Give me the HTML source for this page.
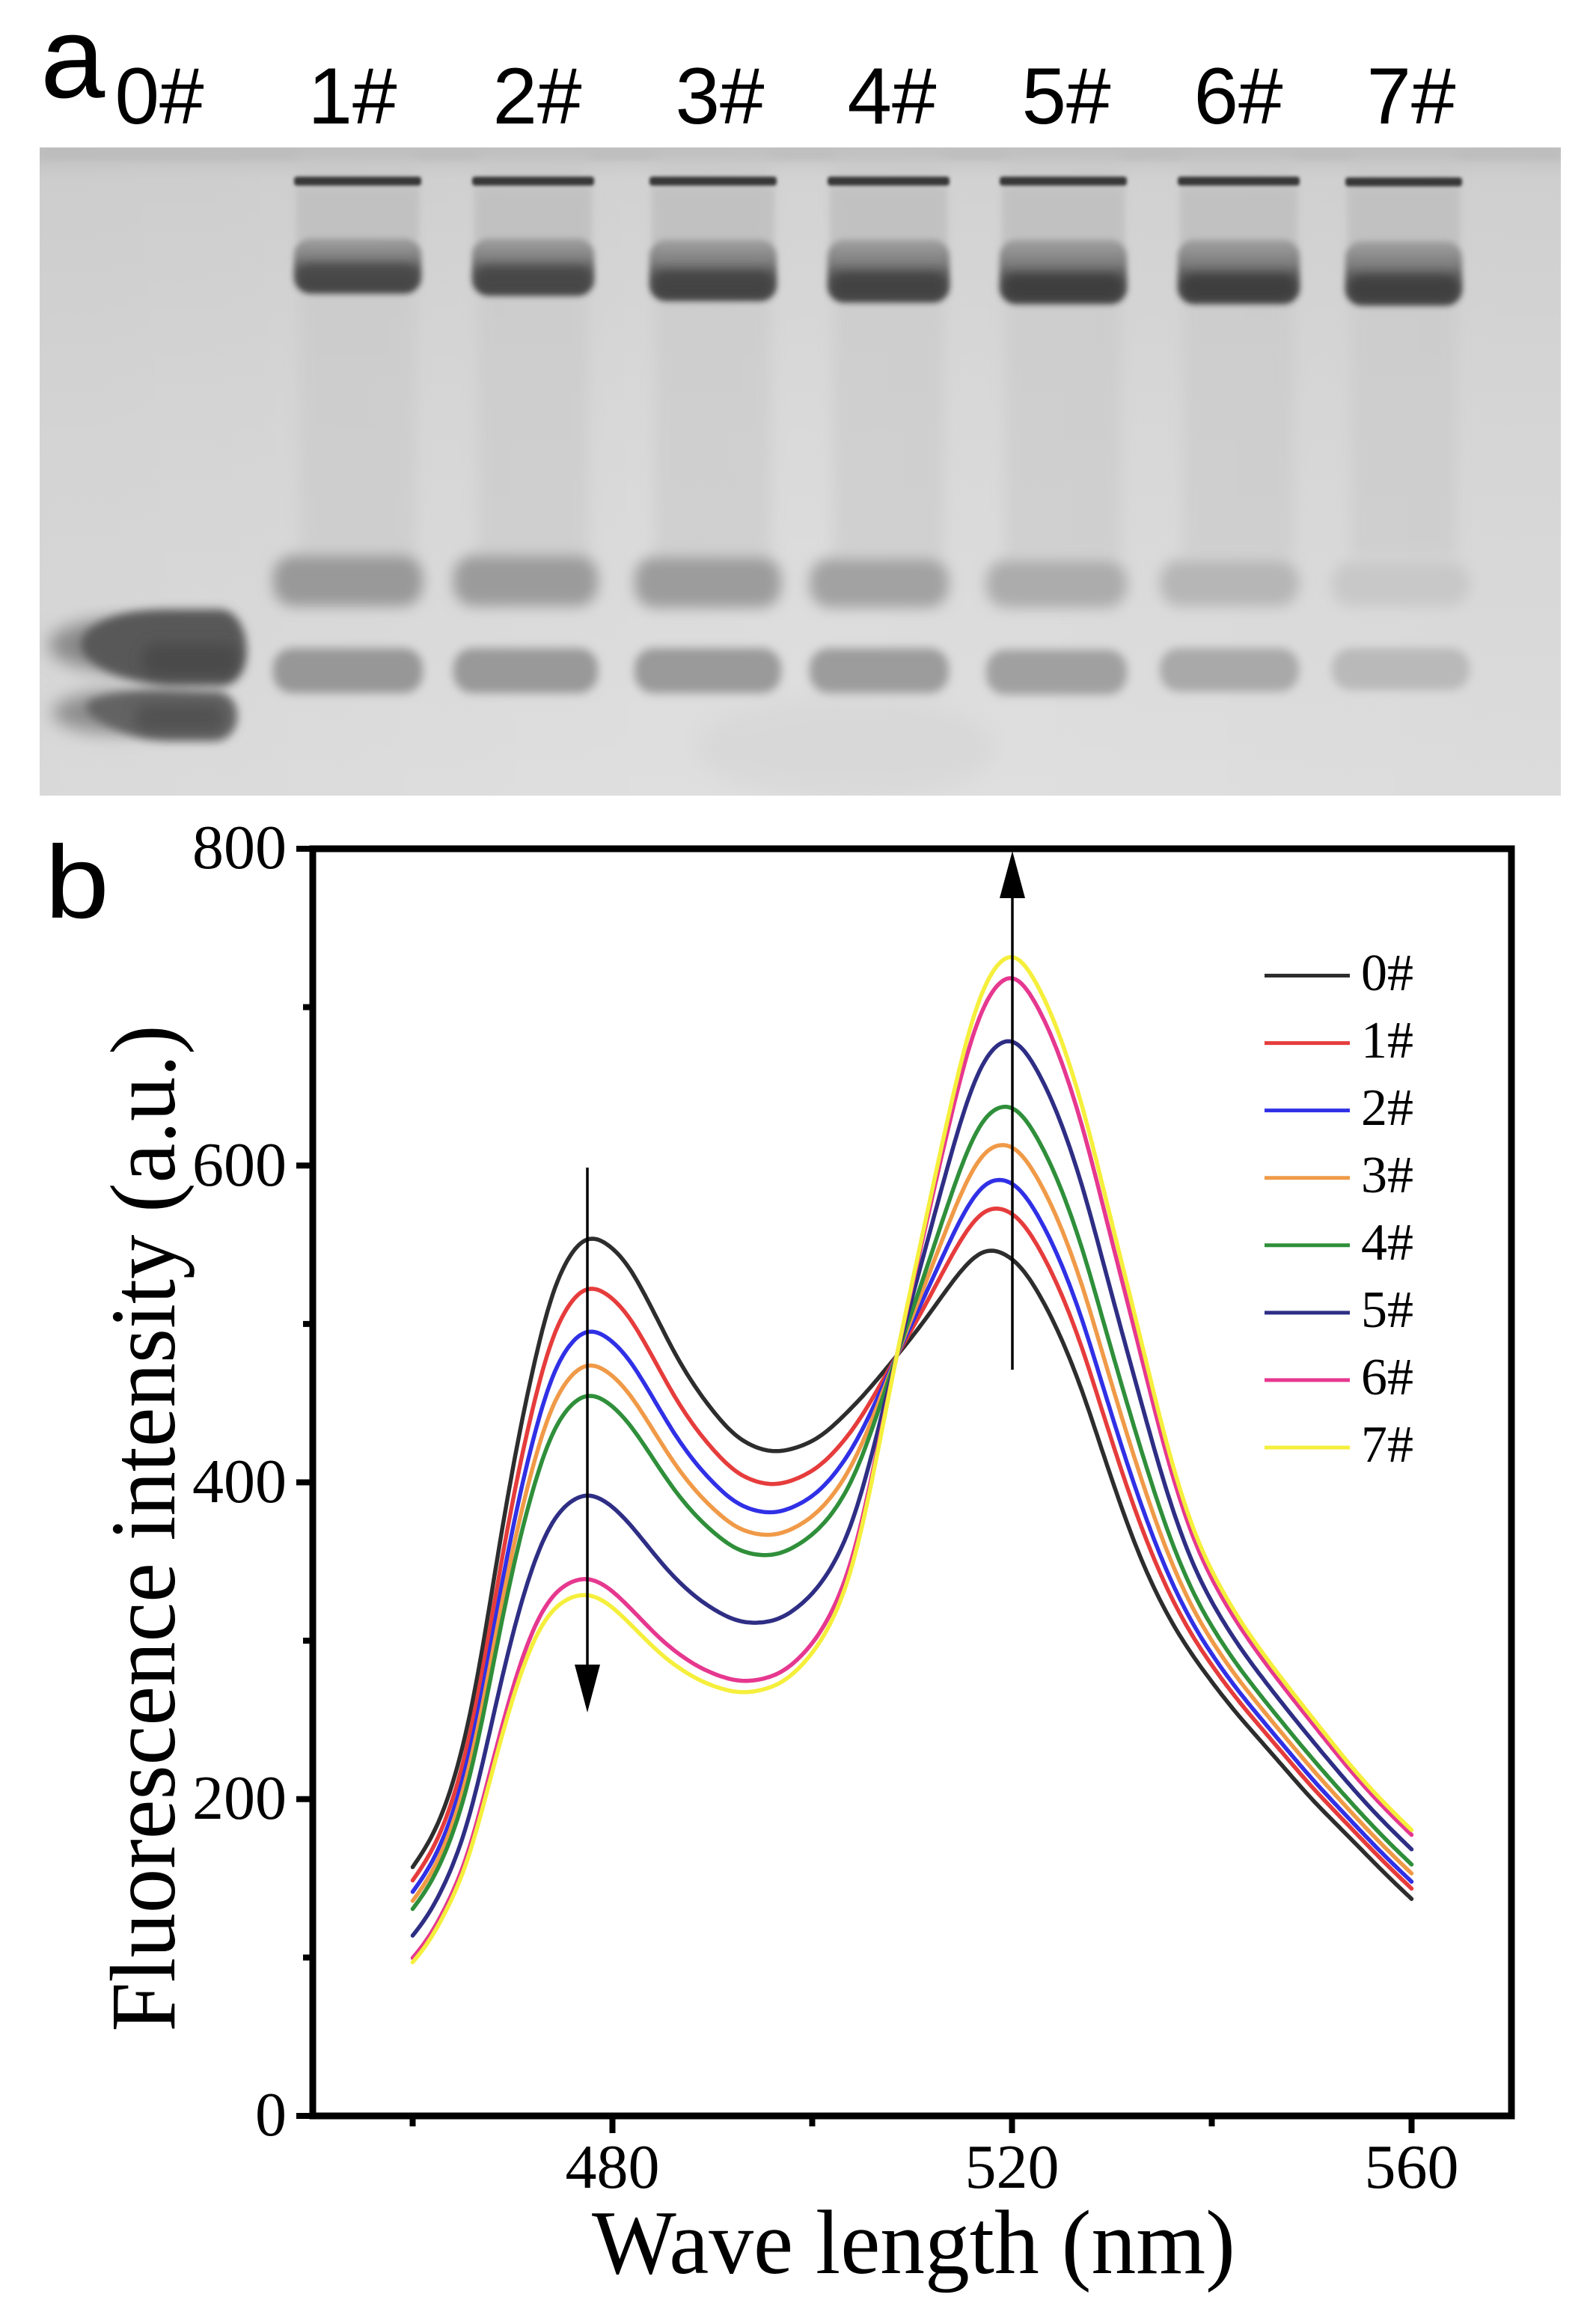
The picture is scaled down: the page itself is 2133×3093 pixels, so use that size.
<!DOCTYPE html>
<html>
<head>
<meta charset="utf-8">
<style>
html,body{margin:0;padding:0;background:#fff;}
svg{display:block;}
.sans{font-family:"Liberation Sans",Arial,sans-serif;}
.serif{font-family:"Liberation Serif","Times New Roman",serif;}
</style>
</head>
<body>
<svg width="2133" height="3093" viewBox="0 0 2133 3093" xmlns="http://www.w3.org/2000/svg">
<defs>
  <filter id="g2" x="-20%" y="-100%" width="140%" height="300%"><feGaussianBlur stdDeviation="2"/></filter>
  <filter id="g4" x="-30%" y="-60%" width="160%" height="220%"><feGaussianBlur stdDeviation="4"/></filter>
  <filter id="g6" x="-40%" y="-80%" width="180%" height="260%"><feGaussianBlur stdDeviation="6"/></filter>
  <filter id="g9" x="-50%" y="-100%" width="200%" height="300%"><feGaussianBlur stdDeviation="9"/></filter>
  <filter id="g12" x="-50%" y="-100%" width="200%" height="300%"><feGaussianBlur stdDeviation="12"/></filter>
  <filter id="g14" x="-50%" y="-50%" width="200%" height="200%"><feGaussianBlur stdDeviation="14"/></filter>
  <linearGradient id="gelbg" x1="0" y1="0" x2="0" y2="1">
    <stop offset="0" stop-color="#c6c6c6"/>
    <stop offset="0.05" stop-color="#d3d3d3"/>
    <stop offset="0.4" stop-color="#d9d9d9"/>
    <stop offset="1" stop-color="#e0e0e0"/>
  </linearGradient>
  <linearGradient id="gelh" x1="0" y1="0" x2="1" y2="0">
    <stop offset="0" stop-color="#000" stop-opacity="0.03"/>
    <stop offset="0.5" stop-color="#000" stop-opacity="0"/>
    <stop offset="1" stop-color="#000" stop-opacity="0.02"/>
  </linearGradient>
  <linearGradient id="mb" x1="0" y1="0" x2="0" y2="1">
    <stop offset="0" stop-color="#a2a2a2"/>
    <stop offset="0.35" stop-color="#808080"/>
    <stop offset="0.55" stop-color="#5e5e5e"/>
    <stop offset="1" stop-color="#4a4a4a"/>
  </linearGradient>
  <clipPath id="gelclip"><rect x="53" y="197" width="2033" height="866"/></clipPath>
</defs>

<!-- ============ PANEL A: GEL ============ -->
<text class="sans" x="54" y="130" font-size="155" fill="#000">a</text>
<g class="sans" font-size="107" fill="#000" text-anchor="middle">
  <text x="213" y="165">0#</text>
  <text x="471" y="165">1#</text>
  <text x="718" y="165">2#</text>
  <text x="962" y="165">3#</text>
  <text x="1192" y="165">4#</text>
  <text x="1425" y="165">5#</text>
  <text x="1655" y="165">6#</text>
  <text x="1886" y="165">7#</text>
</g>

<g clip-path="url(#gelclip)">
  <rect x="53" y="197" width="2033" height="866" fill="url(#gelbg)"/>
  <rect x="53" y="197" width="2033" height="866" fill="url(#gelh)"/>
  <rect x="53" y="197" width="2033" height="18" fill="#b9b9b9" opacity="0.6" filter="url(#g4)"/>
  <ellipse cx="1130" cy="1000" rx="200" ry="70" fill="#cdcdcd" opacity="0.35" filter="url(#g14)"/>

  <g fill="#c8c8c8" opacity="0.55" filter="url(#g9)">
    <rect x="400" y="205" width="156" height="540"/>
    <rect x="638" y="205" width="149" height="540"/>
    <rect x="875" y="205" width="156" height="540"/>
    <rect x="1113" y="205" width="149" height="540"/>
    <rect x="1343" y="205" width="156" height="540"/>
    <rect x="1581" y="205" width="149" height="540"/>
    <rect x="1805" y="205" width="142" height="540"/>
  </g>
  <g fill="#bdbdbd" opacity="0.7" filter="url(#g4)">
    <rect x="396" y="250" width="164" height="70"/>
    <rect x="634" y="250" width="157" height="72"/>
    <rect x="871" y="250" width="164" height="76"/>
    <rect x="1109" y="250" width="157" height="78"/>
    <rect x="1339" y="250" width="164" height="78"/>
    <rect x="1577" y="250" width="157" height="78"/>
    <rect x="1801" y="250" width="150" height="80"/>
  </g>
  <g fill="#383838" filter="url(#g2)">
    <rect x="393" y="236" width="170" height="12" rx="4"/>
    <rect x="631" y="236" width="163" height="12" rx="4"/>
    <rect x="868" y="236" width="170" height="12" rx="4"/>
    <rect x="1106" y="236" width="163" height="12" rx="4"/>
    <rect x="1336" y="236" width="170" height="12" rx="4"/>
    <rect x="1574" y="236" width="163" height="12" rx="4"/>
    <rect x="1798" y="237" width="156" height="12" rx="4"/>
  </g>
  <g fill="url(#mb)" filter="url(#g4)">
    <rect x="393" y="318" width="170" height="74" rx="22"/>
    <rect x="631" y="318" width="163" height="77" rx="22"/>
    <rect x="868" y="320" width="170" height="82" rx="22"/>
    <rect x="1106" y="320" width="163" height="84" rx="22"/>
    <rect x="1336" y="320" width="170" height="86" rx="22"/>
    <rect x="1574" y="320" width="163" height="86" rx="22"/>
    <rect x="1798" y="322" width="156" height="86" rx="22"/>
  </g>
  <g fill="#3a3a3a" filter="url(#g6)">
    <rect x="398" y="352" width="160" height="34" rx="16" opacity="0.55"/>
    <rect x="636" y="355" width="153" height="34" rx="16" opacity="0.6"/>
    <rect x="873" y="362" width="160" height="34" rx="16" opacity="0.7"/>
    <rect x="1111" y="364" width="153" height="34" rx="16" opacity="0.72"/>
    <rect x="1341" y="366" width="160" height="34" rx="16" opacity="0.8"/>
    <rect x="1579" y="366" width="153" height="34" rx="16" opacity="0.8"/>
    <rect x="1803" y="368" width="146" height="34" rx="16" opacity="0.82"/>
  </g>
  <g filter="url(#g9)">
    <rect x="365" y="742" width="200" height="68" rx="28" fill="#999999"/>
    <rect x="606" y="742" width="193" height="68" rx="28" fill="#9b9b9b"/>
    <rect x="848" y="744" width="196" height="68" rx="28" fill="#9c9c9c"/>
    <rect x="1082" y="746" width="186" height="66" rx="28" fill="#a2a2a2"/>
    <rect x="1318" y="748" width="188" height="64" rx="28" fill="#acacac"/>
    <rect x="1550" y="748" width="186" height="62" rx="28" fill="#b6b6b6"/>
    <rect x="1780" y="750" width="184" height="60" rx="28" fill="#c8c8c8"/>
  </g>
  <g filter="url(#g6)">
    <rect x="365" y="866" width="200" height="60" rx="26" fill="#979797"/>
    <rect x="606" y="866" width="193" height="60" rx="26" fill="#999999"/>
    <rect x="848" y="866" width="196" height="60" rx="26" fill="#9a9a9a"/>
    <rect x="1082" y="866" width="186" height="60" rx="26" fill="#9c9c9c"/>
    <rect x="1318" y="868" width="188" height="60" rx="26" fill="#a0a0a0"/>
    <rect x="1550" y="866" width="186" height="58" rx="26" fill="#a9a9a9"/>
    <rect x="1780" y="866" width="184" height="56" rx="26" fill="#b9b9b9"/>
  </g>
  <g filter="url(#g12)">
    <ellipse cx="150" cy="862" rx="85" ry="34" fill="#8a8a8a"/>
    <ellipse cx="150" cy="952" rx="80" ry="28" fill="#8e8e8e"/>
  </g>
  <g filter="url(#g6)">
    <path d="M120,840 C150,818 190,814 230,814 L295,814 C338,818 342,908 300,916 L230,916 C180,914 140,900 118,880 C104,868 106,852 120,840 Z" fill="#595959"/>
    <path d="M125,934 C155,924 190,922 225,922 L292,924 C326,930 326,984 290,990 L225,990 C180,988 145,972 125,958 C112,950 112,940 125,934 Z" fill="#646464"/>
  </g>
  <g filter="url(#g9)" opacity="0.7">
    <rect x="190" y="860" width="130" height="45" rx="20" fill="#444"/>
    <rect x="180" y="940" width="120" height="38" rx="18" fill="#4c4c4c"/>
  </g>
</g>

<!-- ============ PANEL B: CHART ============ -->
<text class="sans" x="60" y="1226" font-size="138" fill="#000" transform="translate(60,1226) scale(1.12,1) translate(-60,-1226)">b</text>

<g id="curves" fill="none" stroke-width="5.5" stroke-linejoin="round" stroke-linecap="round"></g>

<g stroke="#000" stroke-width="3.5">
  <line x1="785" y1="1560" x2="785" y2="2232"/>
  <line x1="1353" y1="1830" x2="1353" y2="1192"/>
</g>
<polygon points="768,2224 802,2224 785,2288" fill="#000"/>
<polygon points="1336,1200 1370,1200 1353,1137" fill="#000"/>

<rect x="418" y="1134" width="1602" height="1693" fill="none" stroke="#000" stroke-width="9"/>

<g stroke="#000" stroke-width="8">
  <line x1="396" y1="2827" x2="418" y2="2827"/>
  <line x1="396" y1="2403.75" x2="418" y2="2403.75"/>
  <line x1="396" y1="1980.5" x2="418" y2="1980.5"/>
  <line x1="396" y1="1557.25" x2="418" y2="1557.25"/>
  <line x1="396" y1="1134" x2="418" y2="1134"/>
  <line x1="405" y1="2615.4" x2="418" y2="2615.4"/>
  <line x1="405" y1="2192.1" x2="418" y2="2192.1"/>
  <line x1="405" y1="1768.9" x2="418" y2="1768.9"/>
  <line x1="405" y1="1345.6" x2="418" y2="1345.6"/>
</g>
<g stroke="#000" stroke-width="8">
  <line x1="818.5" y1="2827" x2="818.5" y2="2850"/>
  <line x1="1352.5" y1="2827" x2="1352.5" y2="2850"/>
  <line x1="1886.5" y1="2827" x2="1886.5" y2="2850"/>
  <line x1="551.5" y1="2827" x2="551.5" y2="2841"/>
  <line x1="1085.5" y1="2827" x2="1085.5" y2="2841"/>
  <line x1="1619.5" y1="2827" x2="1619.5" y2="2841"/>
</g>

<g class="serif" font-size="84" fill="#000" text-anchor="end">
  <text x="383" y="2853">0</text>
  <text x="383" y="2430">200</text>
  <text x="383" y="2007">400</text>
  <text x="383" y="1584">600</text>
  <text x="383" y="1160">800</text>
</g>
<g class="serif" font-size="84" fill="#000" text-anchor="middle">
  <text x="818.5" y="2923">480</text>
  <text x="1352.5" y="2923">520</text>
  <text x="1886.5" y="2923">560</text>
</g>

<text class="serif" x="1221" y="3037" font-size="122" text-anchor="middle" textLength="860" lengthAdjust="spacingAndGlyphs" fill="#000">Wave length (nm)</text>
<text class="serif" transform="translate(233,2042) rotate(-90)" x="0" y="0" font-size="124" text-anchor="middle" textLength="1345" lengthAdjust="spacingAndGlyphs" fill="#000">Fluorescence intensity (a.u.)</text>

<g stroke-width="5">
  <line x1="1690" y1="1303.5" x2="1804" y2="1303.5" stroke="#2d2d2d"/>
  <line x1="1690" y1="1393.6" x2="1804" y2="1393.6" stroke="#e63c3c"/>
  <line x1="1690" y1="1483.6" x2="1804" y2="1483.6" stroke="#3030e6"/>
  <line x1="1690" y1="1573.7" x2="1804" y2="1573.7" stroke="#f09a48"/>
  <line x1="1690" y1="1663.8" x2="1804" y2="1663.8" stroke="#2f8f3a"/>
  <line x1="1690" y1="1753.9" x2="1804" y2="1753.9" stroke="#2e2e85"/>
  <line x1="1690" y1="1843.9" x2="1804" y2="1843.9" stroke="#e6388f"/>
  <line x1="1690" y1="1934" x2="1804" y2="1934" stroke="#f5ef3c"/>
</g>
<g class="serif" font-size="70" fill="#000">
  <text x="1819" y="1323">0#</text>
  <text x="1819" y="1413">1#</text>
  <text x="1819" y="1503">2#</text>
  <text x="1819" y="1593">3#</text>
  <text x="1819" y="1683">4#</text>
  <text x="1819" y="1773">5#</text>
  <text x="1819" y="1863">6#</text>
  <text x="1819" y="1953">7#</text>
</g>
</svg>

<script>
(function(){
  function mk(pts){
    var xs=pts.map(function(p){return p[0];}), ys=pts.map(function(p){return p[1];});
    var n=xs.length, d=[], m=[], i;
    for(i=0;i<n-1;i++) d[i]=(ys[i+1]-ys[i])/(xs[i+1]-xs[i]);
    m[0]=d[0]; m[n-1]=d[n-2];
    for(i=1;i<n-1;i++){
      if(d[i-1]*d[i]<=0){m[i]=0;}
      else{
        var h0=xs[i]-xs[i-1], h1=xs[i+1]-xs[i], w1=2*h1+h0, w2=h1+2*h0;
        m[i]=(w1+w2)/(w1/d[i-1]+w2/d[i]);
      }
    }
    return function(x){
      if(x<=xs[0]) return ys[0]+(x-xs[0])*d[0];
      if(x>=xs[n-1]) return ys[n-1]+(x-xs[n-1])*d[n-2];
      var k=0; while(k<n-2 && x>xs[k+1]) k++;
      var h=xs[k+1]-xs[k], t=(x-xs[k])/h, t2=t*t, t3=t2*t;
      return (2*t3-3*t2+1)*ys[k]+(t3-2*t2+t)*h*m[k]+(-2*t3+3*t2)*ys[k+1]+(t3-t2)*h*m[k+1];
    };
  }
  var B=mk([[460,157],[461,166],[462.4,181],[464.1,210],[466.3,268],[467.7,322],[469.7,399],[472.1,474],[474.5,530],[477.7,556],[480.9,543],[483.7,513],[486.6,477],[489.8,447],[493,426],[496.2,419],[499.8,425],[503.8,446],[508.4,479.4],[511,500],[513.5,522],[515.6,539],[517.6,548],[520.2,541],[523,516],[526.4,469],[529.6,409],[532.6,356],[535.4,318],[537.5,296],[540,274],[542.5,254],[545,236],[547.5,218],[550,200],[552.5,184],[555,168],[557.5,152],[560,137]]);
  var Yl=mk([[460,97],[461.5,108],[463,125],[465.3,156],[467.7,211],[469.9,262],[472.1,301],[473.7,318],[475.5,327],[477.4,330],[479.5,324],[481.7,311],[485.7,287],[489.8,272],[493,267],[496.2,271],[499.8,290],[502,312],[503.8,340],[506,401],[508.4,479],[511,555],[513.4,625],[516.1,695],[517.8,722],[520,735],[523,709],[526.4,652],[529.9,566],[533.3,480],[535.3,428],[538.5,364],[542.5,316],[545,293],[547.5,272],[550,252],[552.5,232],[555,213],[557.5,196],[560,180.5]]);
  function X(nm){return 418+(nm-450)*13.35;}
  function Y(v){return 2827-v*2.11625;}
  var series=[
    ["#2d2d2d",0,0],
    ["#e63c3c",0.14,0.15],
    ["#3030e6",0.26,0.25],
    ["#f09a48",0.355,0.37],
    ["#2f8f3a",0.44,0.50],
    ["#2e2e85",0.72,0.72],
    ["#e6388f",0.955,0.93],
    ["#f5ef3c",1,1]
  ];
  var step=0.25, sig=1.0, pad=6;
  var kr=Math.ceil(3*sig/step), ker=[], ks=0, j;
  for(j=-kr;j<=kr;j++){var w=Math.exp(-0.5*Math.pow(j*step/sig,2));ker.push(w);ks+=w;}
  var g=document.getElementById('curves');
  var NS='http://www.w3.org/2000/svg';
  series.forEach(function(s){
    var xs=[], vs=[], nm;
    for(nm=460-pad; nm<=560+pad+1e-6; nm+=step){
      var b=B(nm), y=Yl(nm);
      var t = nm<=500 ? s[1] : (nm>=516 ? s[2] : s[1]+(s[2]-s[1])*(nm-500)/16);
      xs.push(nm); vs.push(b+t*(y-b));
    }
    var d='';
    for(var i=0;i<xs.length;i++){
      if(xs[i]<460-1e-6 || xs[i]>560+1e-6) continue;
      var acc=0;
      for(j=-kr;j<=kr;j++){var idx=Math.min(xs.length-1,Math.max(0,i+j));acc+=vs[idx]*ker[j+kr];}
      var v=acc/ks;
      d += (d?'L':'M') + X(xs[i]).toFixed(1) + ',' + Y(v).toFixed(1);
    }
    var p=document.createElementNS(NS,'path');
    p.setAttribute('d',d);
    p.setAttribute('stroke',s[0]);
    g.appendChild(p);
  });
})();
</script>
</body>
</html>
